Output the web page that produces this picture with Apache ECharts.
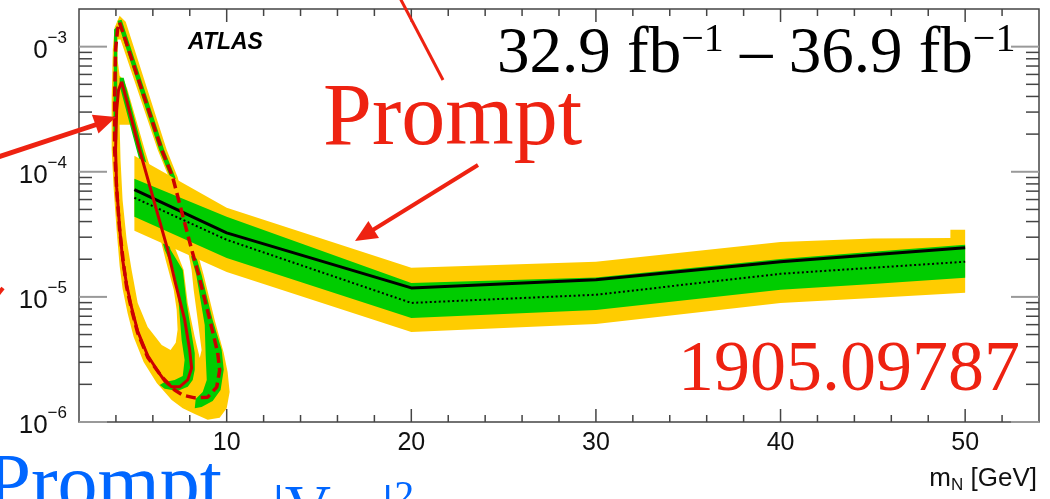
<!DOCTYPE html>
<html>
<head>
<meta charset="utf-8">
<title>Heavy neutral lepton limits, prompt and displaced</title>
<script src="https://cdn.jsdelivr.net/npm/echarts@6/dist/echarts.min.js"></script>
<style>
  html, body { margin: 0; padding: 0; background: #fff; }
  #chart { width: 1050px; height: 499px; }
</style>
</head>
<body>
<div id="chart"></div>
<script>
// axis ranges (m_N in GeV, coupling on a log scale)
const X_MIN = 2, X_MAX = 54;
const Y_MIN = 1e-6, Y_MAX = 2e-3;

// prompt analysis: observed, expected and the +-1 / +-2 sigma bands
const promptMass = [5, 10, 20, 30, 40, 45, 50];
const promptObserved = [7.2e-5, 3.25e-5, 1.18e-5, 1.37e-5, 1.91e-5, 2.17e-5, 2.47e-5];
const promptExpected = [6.2e-5, 2.86e-5, 8.95e-6, 1.04e-5, 1.53e-5, 1.71e-5, 1.91e-5];
const promptOneSigmaUp = [8.8e-5, 4.37e-5, 1.29e-5, 1.43e-5, 2.01e-5, 2.29e-5, 2.61e-5];
const promptOneSigmaDown = [4.37e-5, 2.05e-5, 6.79e-6, 7.87e-6, 1.14e-5, 1.27e-5, 1.42e-5];
const promptTwoSigmaUpMass = [5, 10, 20, 30, 40, 45, 49.2, 49.2, 50];
const promptTwoSigmaUp = [1.34e-4, 5.15e-5, 1.71e-5, 1.91e-5, 2.75e-5, 2.93e-5, 2.96e-5, 3.44e-5, 3.44e-5];
const promptTwoSigmaDown = [3.37e-5, 1.58e-5, 5.25e-6, 6.08e-6, 8.95e-6, 9.8e-6, 1.08e-5];

// displaced-vertex contours [m_N, |V|^2]
const dvExpected = [
  [4.20, 1.56e-3], [6.48, 1.50e-4], [7.07, 9.1e-5], [8.10, 2.4e-5], [8.48, 1.5e-5],
  [9.08, 6.6e-6], [9.51, 3.6e-6], [9.62, 2.6e-6], [9.46, 1.9e-6], [8.97, 1.58e-6],
  [8.27, 1.56e-6], [7.62, 1.64e-6], [7.18, 1.80e-6], [6.48, 2.3e-6], [5.72, 3.3e-6],
  [5.18, 5.15e-6], [4.85, 7.9e-6], [4.58, 1.2e-5], [4.42, 1.8e-5], [4.20, 3.44e-5],
  [4.04, 7.2e-5], [3.93, 1.5e-4], [3.93, 3.8e-4], [3.98, 9.5e-4], [4.09, 1.37e-3],
  [4.20, 1.56e-3]
];
const dvObserved = [
  [4.31, 5.25e-4], [5.28, 1.5e-4], [6.80, 2.4e-5], [7.18, 1.37e-5], [7.72, 6.6e-6],
  [7.99, 3.8e-6], [8.10, 2.7e-6], [7.89, 2.17e-6], [7.45, 1.91e-6], [7.02, 1.91e-6],
  [6.64, 2.13e-6], [6.37, 2.42e-6], [5.72, 3.4e-6], [5.18, 5.3e-6], [4.85, 8.2e-6],
  [4.58, 1.25e-5], [4.36, 2.0e-5], [4.20, 3.6e-5], [4.04, 7.5e-5], [3.98, 1.5e-4],
  [4.04, 3.1e-4], [4.14, 4.5e-4], [4.31, 5.25e-4]
];
// band regions around the displaced contours
const dvYellowEnvelope = [
  [4.20, 1.77e-3], [4.53, 1.58e-3], [6.75, 1.5e-4], [7.34, 9.1e-5], [8.37, 2.4e-5],
  [8.75, 1.5e-5], [9.35, 6.55e-6], [9.84, 3.56e-6], [10.05, 2.51e-6], [10.16, 1.74e-6],
  [10.0, 1.29e-6], [9.62, 1.08e-6], [8.97, 1.04e-6], [8.27, 1.16e-6], [7.62, 1.29e-6],
  [7.02, 1.50e-6], [6.64, 1.74e-6], [6.21, 2.05e-6], [5.50, 3.02e-6], [4.96, 4.79e-6],
  [4.63, 7.45e-6], [4.36, 1.16e-5], [4.20, 1.77e-5], [4.04, 3.37e-5], [3.88, 7.2e-5],
  [3.77, 1.5e-4], [3.77, 3.8e-4], [3.83, 9.5e-4], [3.93, 1.42e-3]
];
const dvWhiteInside = [
  [4.20, 2.38e-4], [4.80, 2.38e-4], [5.01, 1.80e-4], [5.50, 9.5e-5], [5.93, 5.45e-5],
  [6.42, 2.86e-5], [6.69, 1.98e-5], [6.91, 1.5e-5], [7.13, 1.14e-5], [7.29, 7.9e-6],
  [7.34, 5.45e-6], [7.24, 4.3e-6], [6.96, 3.77e-6], [6.48, 4.13e-6], [5.72, 5.75e-6],
  [5.18, 8.95e-6], [4.85, 1.64e-5], [4.58, 2.86e-5], [4.36, 5.97e-5], [4.25, 1.25e-4]
];
const dvWhiteGap = [
  [4.09, 1.14e-3], [4.25, 1.14e-3], [6.26, 1.5e-4], [6.86, 9.1e-5], [7.89, 2.38e-5],
  [8.10, 1.64e-5], [8.21, 1.14e-5], [8.43, 6.55e-6], [8.64, 3.77e-6], [8.54, 3.25e-6],
  [8.27, 4.79e-6], [7.89, 8.95e-6], [7.67, 1.64e-5], [7.24, 2.38e-5], [5.56, 1.5e-4],
  [4.63, 4.53e-4], [4.42, 5.45e-4], [4.20, 5.86e-4], [4.09, 7.87e-4]
];
const dvGreenOuter = [
  [4.09, 1.61e-3], [4.31, 1.64e-3], [6.61, 1.5e-4], [7.21, 9.1e-5], [8.24, 2.38e-5],
  [8.64, 1.5e-5], [9.24, 6.55e-6], [9.73, 3.77e-6], [9.84, 2.61e-6], [9.67, 1.80e-6],
  [9.24, 1.47e-6], [8.64, 1.32e-6], [8.27, 1.29e-6], [8.32, 1.53e-6], [8.70, 1.74e-6],
  [8.92, 2.17e-6], [8.86, 3.44e-6], [8.81, 5.97e-6], [8.35, 1.5e-5], [7.97, 2.38e-5],
  [6.94, 9.1e-5], [6.34, 1.5e-4], [4.17, 1.45e-3]
];
const dvGreenInner = [
  [4.20, 5.65e-4], [4.42, 5.65e-4], [5.45, 1.5e-4], [6.96, 2.38e-5], [7.62, 1.64e-5],
  [7.83, 8.95e-6], [8.27, 3.56e-6], [8.27, 2.61e-6], [8.16, 2.17e-6], [7.89, 1.91e-6],
  [7.34, 1.77e-6], [6.64, 1.84e-6], [6.37, 1.98e-6], [6.64, 2.09e-6], [7.18, 2.17e-6],
  [7.62, 2.33e-6], [7.72, 3.13e-6], [7.56, 4.53e-6], [7.40, 8.95e-6], [7.13, 1.64e-5],
  [6.64, 2.38e-5], [5.12, 1.5e-4], [4.20, 4.88e-4]
];
const dvGreenLeft = [[3.90, 1.37e-3], [4.07, 1.45e-3], [4.07, 1.8e-4], [3.86, 1.8e-4]];

const SANS = 'Liberation Sans';
const SERIF = 'Liberation Serif';
const YELLOW = '#ffcc00';
const GREEN = '#00cc00';
const DV_RED = '#cc0000';
const NOTE_RED = '#ee2211';
const NOTE_BLUE = '#0066ff';

function pairs(masses, values) {
  return masses.map((m, i) => [m, values[i]]);
}

function fillSeries(polygon, color) {
  return {
    type: 'custom',
    silent: true,
    data: [polygon[0]],
    renderItem: (params, api) => ({
      type: 'polygon',
      shape: { points: polygon.map(p => api.coord(p)) },
      style: { fill: color }
    })
  };
}

function bandSeries(upMass, up, downMass, down, color) {
  return fillSeries(pairs(upMass, up).concat(pairs(downMass, down).reverse()), color);
}

function lineSeries(data, style) {
  return {
    type: 'line',
    data,
    showSymbol: false,
    silent: true,
    lineStyle: style
  };
}

// frame ticks on all four sides
const xTicks = [];
for (let m = 4; m <= 52; m += 2) xTicks.push([m, Y_MIN, m % 10 === 0 ? 1 : 0]);
const yTicks = [];
for (let e = -6; e <= -3; e++) {
  yTicks.push([X_MIN, Math.pow(10, e), 1]);
  if (e < -3) for (let k = 2; k <= 9; k++) yTicks.push([X_MIN, k * Math.pow(10, e), 0]);
}

const tickSeries = [
  {
    type: 'custom', silent: true, data: xTicks,
    renderItem: (params, api) => {
      const v = api.value(0);
      const len = api.value(2) === 1 ? 13 : 7;
      const b = api.coord([v, Y_MIN]);
      const t = api.coord([v, Y_MAX]);
      const style = { stroke: '#444', lineWidth: 1.5 };
      return {
        type: 'group', children: [
          { type: 'line', shape: { x1: b[0], y1: b[1], x2: b[0], y2: b[1] - len }, style },
          { type: 'line', shape: { x1: t[0], y1: t[1], x2: t[0], y2: t[1] + len }, style }
        ]
      };
    }
  },
  {
    type: 'custom', silent: true, data: yTicks,
    renderItem: (params, api) => {
      const v = api.value(1);
      const major = api.value(2) === 1;
      const len = major ? 28 : 13;
      const l = api.coord([X_MIN, v]);
      const r = api.coord([X_MAX, v]);
      const style = major ? { stroke: '#999', lineWidth: 2 } : { stroke: '#444', lineWidth: 1.5 };
      return {
        type: 'group', children: [
          { type: 'line', shape: { x1: l[0], y1: l[1], x2: l[0] + len, y2: l[1] }, style },
          { type: 'line', shape: { x1: r[0], y1: r[1], x2: r[0] - len, y2: r[1] }, style }
        ]
      };
    }
  }
];

const chart = echarts.init(document.getElementById('chart'));

chart.setOption({
  animation: false,
  backgroundColor: '#fff',
  textStyle: { fontFamily: SANS },
  grid: {
    left: 79, right: 11, top: 9, bottom: 77,
    containLabel: false,
    outerBoundsMode: 'none',
    show: true,
    borderColor: '#444',
    borderWidth: 1.5
  },
  xAxis: {
    type: 'value',
    min: X_MIN,
    max: X_MAX,
    splitNumber: 5,
    axisLine: { show: false },
    axisTick: { show: false },
    splitLine: { show: false },
    axisLabel: {
      fontSize: 25,
      fontFamily: SANS,
      color: '#111',
      margin: 9,
      formatter: v => (v % 10 === 0 ? String(v) : '')
    }
  },
  yAxis: {
    type: 'log',
    logBase: 10,
    min: Y_MIN,
    max: Y_MAX,
    axisLine: { show: false },
    axisTick: { show: false },
    splitLine: { show: false },
    axisLabel: {
      margin: 12,
      formatter: v => {
        const e = Math.round(Math.log10(v));
        if (Math.abs(Math.log10(v) - e) > 1e-6) return '';
        return (e === -3 ? '{b|0}' : '{b|10}') + '{s|\u2212' + (-e) + '}';
      },
      rich: {
        b: { fontSize: 26, fontFamily: SANS, color: '#111', lineHeight: 34, verticalAlign: 'bottom' },
        s: { fontSize: 17, fontFamily: SANS, color: '#111', verticalAlign: 'top' }
      }
    }
  },
  series: [
    fillSeries(dvYellowEnvelope, YELLOW),
    fillSeries(dvWhiteInside, '#fff'),
    fillSeries(dvWhiteGap, '#fff'),
    fillSeries(dvGreenOuter, GREEN),
    fillSeries(dvGreenInner, GREEN),
    fillSeries(dvGreenLeft, GREEN),
    bandSeries(promptTwoSigmaUpMass, promptTwoSigmaUp, promptMass, promptTwoSigmaDown, YELLOW),
    bandSeries(promptMass, promptOneSigmaUp, promptMass, promptOneSigmaDown, GREEN),
    lineSeries(pairs(promptMass, promptExpected), { color: '#000', width: 2, type: [2, 2.5] }),
    lineSeries(pairs(promptMass, promptObserved), { color: '#000', width: 3 }),
    lineSeries(dvExpected, { color: DV_RED, width: 3.5, type: [10, 5] }),
    lineSeries(dvObserved, { color: DV_RED, width: 3 }),
    ...tickSeries
  ],
  graphic: [
    { type: 'text', z: 100, x: 188, y: 43,
      style: { text: 'ATLAS', fontSize: 23, fontWeight: 'bold', fontStyle: 'italic',
               fontFamily: SANS, fill: '#000', verticalAlign: 'middle' } },
    { type: 'text', z: 100, x: 497, y: 20,
      style: {
        text: '{n|32.9 fb}{s|\u22121}{n| \u2013 36.9 fb}{s|\u22121}',
        verticalAlign: 'top',
        rich: {
          n: { fontSize: 65, fontFamily: SERIF, fill: '#000', lineHeight: 70 },
          s: { fontSize: 40, fontFamily: SERIF, fill: '#000', verticalAlign: 'top' }
        }
      } },
    { type: 'text', z: 100, x: 323, y: 121,
      style: { text: 'Prompt', fontSize: 88, fontFamily: SERIF, fill: NOTE_RED, verticalAlign: 'middle' } },
    { type: 'text', z: 100, x: 1020, y: 371,
      style: { text: '1905.09787', fontSize: 72, fontFamily: SERIF, fill: NOTE_RED,
               align: 'right', verticalAlign: 'middle' } },
    { type: 'text', z: 100, x: 222, y: 488,
      style: { text: 'Prompt', fontSize: 80, fontFamily: SERIF, fill: NOTE_BLUE,
               align: 'right', verticalAlign: 'middle' } },
    { type: 'text', z: 100, x: 272, y: 477,
      style: {
        text: '{a||V}{b|\u03bcN}{a||}{c|2}',
        verticalAlign: 'top',
        rich: {
          a: { fontSize: 64, fontFamily: SERIF, fill: NOTE_BLUE, lineHeight: 70 },
          b: { fontSize: 40, fontFamily: SERIF, fill: NOTE_BLUE, verticalAlign: 'bottom' },
          c: { fontSize: 40, fontFamily: SERIF, fill: NOTE_BLUE, verticalAlign: 'top' }
        }
      } },
    { type: 'text', z: 100, x: 1037, y: 494,
      style: {
        text: '{m|m}{n|N}{m| [GeV]}',
        align: 'right',
        verticalAlign: 'bottom',
        rich: {
          m: { fontSize: 26, fontFamily: SANS, fill: '#111', lineHeight: 30 },
          n: { fontSize: 17, fontFamily: SANS, fill: '#111', verticalAlign: 'bottom' }
        }
      } },
    // annotation arrows laid over the plot
    { type: 'line', z: 100, shape: { x1: 400, y1: -2, x2: 443, y2: 80 },
      style: { stroke: NOTE_RED, lineWidth: 3 } },
    { type: 'line', z: 100, shape: { x1: -5, y1: 158, x2: 98, y2: 124 },
      style: { stroke: NOTE_RED, lineWidth: 5 } },
    { type: 'polygon', z: 100, shape: { points: [[116, 117], [98.5, 133.6], [91.9, 114.8]] },
      style: { fill: NOTE_RED } },
    { type: 'line', z: 100, shape: { x1: 478, y1: 165, x2: 372, y2: 230.5 },
      style: { stroke: NOTE_RED, lineWidth: 4 } },
    { type: 'polygon', z: 100, shape: { points: [[355, 241], [379, 237.9], [368.4, 220.9]] },
      style: { fill: NOTE_RED } },
    { type: 'line', z: 100, shape: { x1: -4, y1: 297, x2: 3, y2: 288 },
      style: { stroke: NOTE_RED, lineWidth: 4 } }
  ]
});

window.addEventListener('resize', () => chart.resize());
</script>
</body>
</html>
